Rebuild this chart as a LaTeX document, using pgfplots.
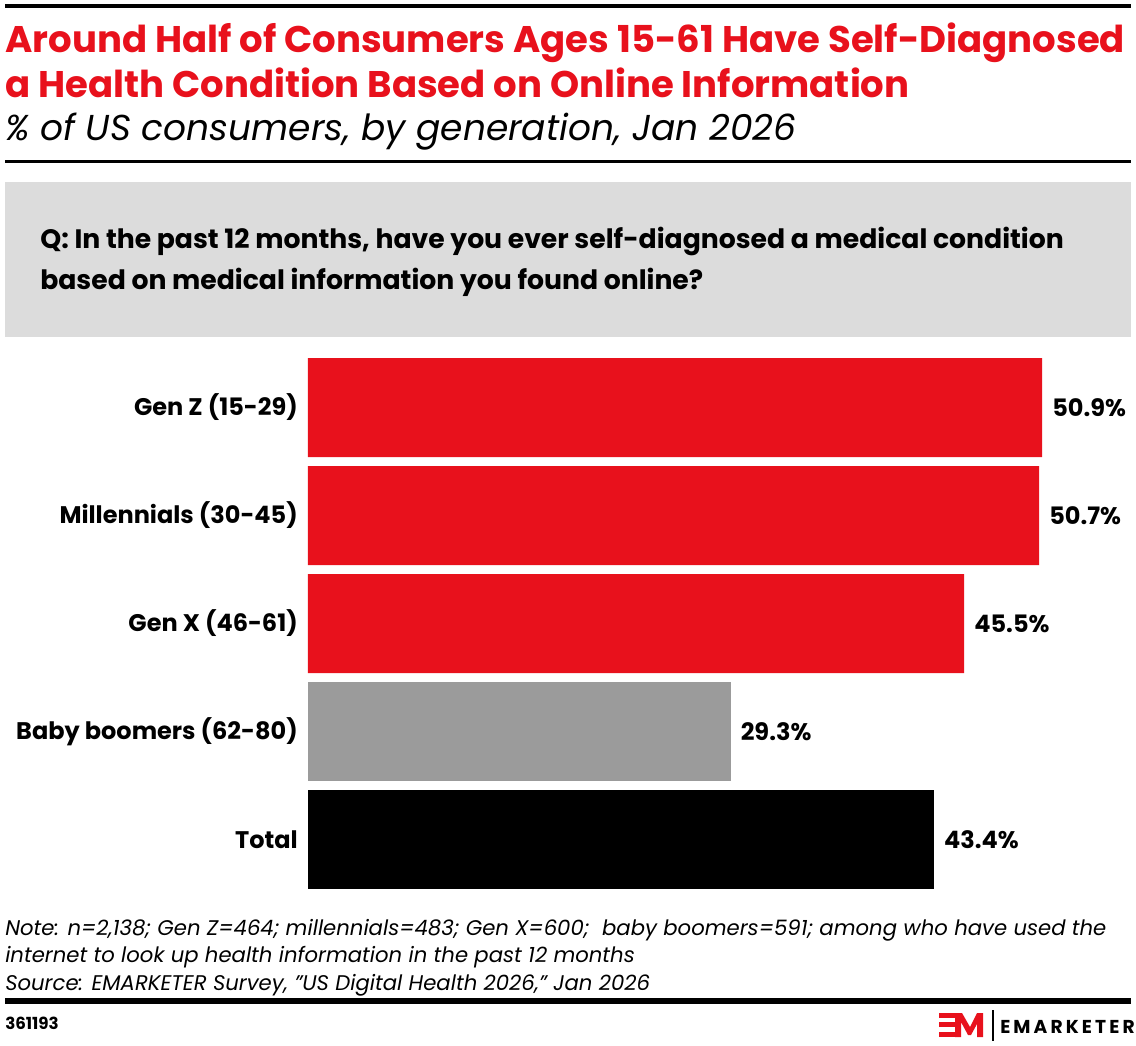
\documentclass[border=0pt]{standalone}
\usepackage{fontspec}
\setmainfont{Poppins}
\usepackage{pgfplots}
\pgfplotsset{compat=1.18}
\definecolor{emred}{HTML}{E8111C}
\definecolor{emgray}{HTML}{9B9B9B}
\definecolor{boxgray}{HTML}{DCDCDC}
\begin{document}
\begin{tikzpicture}[x=0.75pt,y=-0.75pt]
\path[use as bounding box] (0,0) rectangle (1136,1046);
% top rule
\fill (5,4) rectangle (1131,8);
% title
\node[anchor=base west, inner sep=0, text=emred, font=\fontsize{27.8}{30}\selectfont\bfseries] at (5,52) {Around Half of Consumers Ages 15-61 Have Self-Diagnosed};
\node[anchor=base west, inner sep=0, text=emred, font=\fontsize{27.8}{30}\selectfont\bfseries] at (5,97) {a Health Condition Based on Online Information};
\node[anchor=base west, inner sep=0, font=\fontsize{27}{30}\selectfont\itshape] at (5,140) {\% of US consumers, by generation, Jan 2026};
\fill (5,160) rectangle (1131,162.5);
% question box
\fill[boxgray] (5,182) rectangle (1131,337);
\node[anchor=base west, inner sep=0, font=\fontsize{20}{24}\selectfont\bfseries] at (40,248) {Q: In the past 12 months, have you ever self-diagnosed a medical condition};
\node[anchor=base west, inner sep=0, font=\fontsize{20}{24}\selectfont\bfseries] at (40,289) {based on medical information you found online?};
% chart
\begin{axis}[
  at={(231pt,-666.75pt)}, anchor=south west,
  scale only axis, width=550.5pt, height=398.25pt,
  xmin=0, xmax=50.9, ymin=-0.4583, ymax=4.4583,
  xbar, bar width=74.25pt, bar shift=0pt,
  axis line style={draw=none},
  xtick=\empty, ytick={0,1,2,3,4},
  yticklabels={Total,Baby boomers (62-80),Gen X (46-61),Millennials (30-45),Gen Z (15-29)},
  major tick length=0pt,
  yticklabel style={font=\fontsize{18}{20}\selectfont\bfseries, anchor=east, inner sep=0pt, xshift=-7.5pt},
  clip=false,
  /pgf/number format/assume math mode=true,
  nodes near coords={\pgfmathprintnumber[fixed,precision=1,fixed zerofill,assume math mode=true]{\pgfplotspointmeta}\%},
  every node near coord/.append style={font=\fontsize{18}{20}\selectfont\bfseries, anchor=west, inner sep=0pt, xshift=7.5pt, text=black},
]
\addplot[fill=emred, draw=none] coordinates {(50.9,4) (50.7,3) (45.5,2)};
\addplot[fill=emgray, draw=none] coordinates {(29.3,1)};
\addplot[fill=black, draw=none] coordinates {(43.4,0)};
\end{axis}
% notes
\node[anchor=base west, inner sep=0, font=\fontsize{15.9}{18}\selectfont\itshape] at (5,935) {Note: n=2,138; Gen Z=464; millennials=483; Gen X=600;\ \ baby boomers=591; among who have used the};
\node[anchor=base west, inner sep=0, font=\fontsize{15.9}{18}\selectfont\itshape] at (5,962) {internet to look up health information in the past 12 months};
\node[anchor=base west, inner sep=0, font=\fontsize{15.9}{18}\selectfont\itshape] at (5,990) {Source: EMARKETER Survey, {\char34}US Digital Health 2026,{\char34} Jan 2026};
\fill (5,998) rectangle (1131,1004);
\node[anchor=base west, inner sep=0, font=\fontsize{12.5}{15}\selectfont\bfseries] at (5,1029) {361193};
% logo
\fill[emred] (939,1013) rectangle (955,1018);
\fill[emred] (939,1022) rectangle (955,1027);
\fill[emred] (939,1031.5) rectangle (955,1037);
\fill[emred] (955,1013) -- (962,1013) -- (970,1027) -- (977,1013) -- (983,1013) -- (983,1037) -- (977,1037) -- (977,1024) -- (971,1035) -- (968,1035) -- (961,1022) -- (961,1037) -- (955,1037) -- cycle;
\draw[line width=1.2pt] (993,1010) -- (993,1041);
\node[anchor=base west, inner sep=0, font=\fontsize{14}{16}\selectfont\bfseries] at (1000,1033) {E\,M\,A\,R\,K\,E\,T\,E\,R};
\end{tikzpicture}
\end{document}
